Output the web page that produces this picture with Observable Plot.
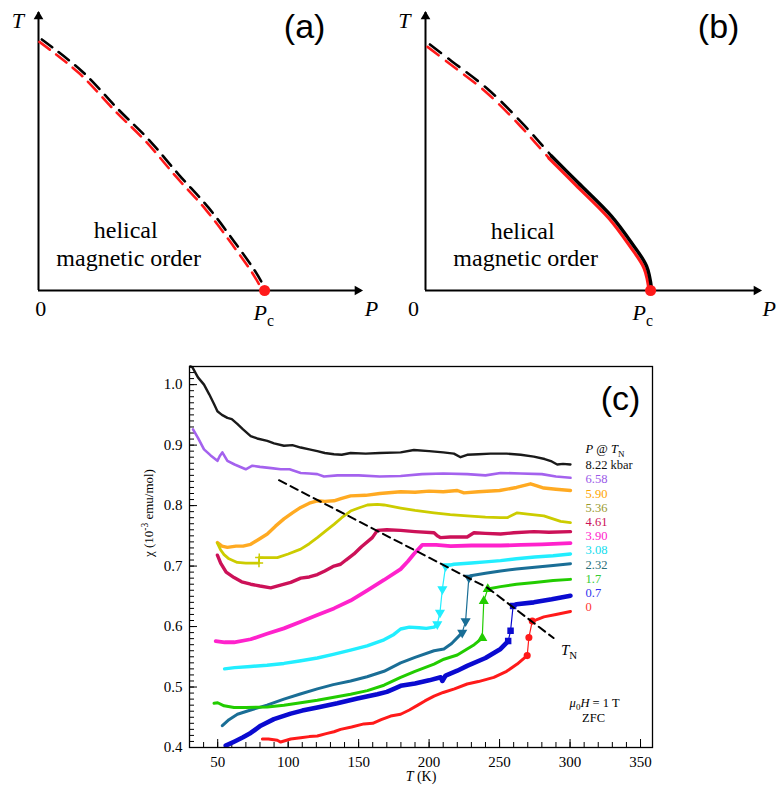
<!DOCTYPE html>
<html>
<head>
<meta charset="utf-8">
<script src="https://cdn.jsdelivr.net/npm/d3@7"></script>
<script src="https://cdn.jsdelivr.net/npm/@observablehq/plot@0.6"></script>
<style>
  html, body { margin: 0; padding: 0; background: #fff; }
  #wrap { position: relative; width: 777px; height: 789px; overflow: hidden; background: #fff; }
</style>
</head>
<body>
<div id="wrap"></div>
<script>
// ================= DATA =================
// Panel (a): schematic phase boundary, P and T in relative units
const aDashP = [0.007, 0.131, 0.244, 0.337, 0.430, 0.523, 0.605, 0.667, 0.700];
const aDashT = [0.899, 0.785, 0.647, 0.540, 0.414, 0.294, 0.168, 0.066, 0.000];
const aPc = 0.700;

// Panel (b): dashed part and solid part of the boundary
const bDashP = [0.010, 0.075, 0.184, 0.284, 0.338, 0.373];
const bDashT = [0.881, 0.821, 0.719, 0.600, 0.528, 0.480];
const bSolidP = [0.373, 0.453, 0.552, 0.612, 0.657, 0.672];
const bSolidT = [0.480, 0.384, 0.264, 0.168, 0.084, 0.000];
const bPc = 0.672;

// Panel (c): chi (10^-3 emu/mol) vs T (K) for several pressures
const T_822 = [30.5, 32, 36, 40.3, 44, 47.4, 49.8, 53, 56.9, 60, 63.9, 68, 73.4, 78, 85.2, 90, 97, 103, 108.9, 115, 120.7, 126, 132.5, 138, 144.3, 155, 165, 179.8, 189.2, 200, 210, 217.6, 222.3, 227, 235, 243.6, 255, 265, 274.3, 282, 287, 290.9, 295, 300.3];
const chi_822 = [1.030, 1.029, 1.012, 1.000, 0.984, 0.968, 0.956, 0.950, 0.945, 0.943, 0.935, 0.926, 0.915, 0.911, 0.907, 0.903, 0.899, 0.900, 0.896, 0.893, 0.890, 0.887, 0.885, 0.884, 0.887, 0.886, 0.887, 0.888, 0.892, 0.890, 0.888, 0.886, 0.880, 0.884, 0.885, 0.886, 0.886, 0.884, 0.881, 0.877, 0.873, 0.868, 0.869, 0.868];

const T_658 = [32.5, 36, 40.3, 45, 49.8, 51.5, 53.3, 56.9, 62, 69.9, 74.6, 80, 88, 94.7, 101, 108.9, 115, 120.7, 125.4, 135, 150, 165, 179.8, 195, 210, 227, 240, 250.7, 265, 280, 290, 300.3];
const chi_658 = [0.926, 0.912, 0.893, 0.883, 0.874, 0.882, 0.888, 0.874, 0.868, 0.860, 0.866, 0.864, 0.862, 0.860, 0.860, 0.854, 0.853, 0.852, 0.848, 0.850, 0.850, 0.848, 0.849, 0.852, 0.853, 0.852, 0.850, 0.854, 0.853, 0.852, 0.848, 0.846];

const T_590 = [49.8, 53, 56.9, 63, 68, 73.4, 79, 85.2, 91, 97, 103, 108.9, 115, 120.7, 126, 132.5, 138, 144.3, 155, 165, 179.8, 190, 200, 210, 220, 224.7, 235, 250, 262, 272, 276, 281.4, 290, 300.3];
const chi_590 = [0.739, 0.733, 0.731, 0.733, 0.733, 0.736, 0.744, 0.753, 0.766, 0.778, 0.788, 0.797, 0.804, 0.808, 0.807, 0.808, 0.812, 0.816, 0.817, 0.820, 0.823, 0.822, 0.824, 0.823, 0.825, 0.821, 0.823, 0.825, 0.830, 0.836, 0.833, 0.829, 0.827, 0.825];

const T_536 = [49.8, 52, 54.5, 58, 63.9, 70, 79.3, 79.5, 86, 92.3, 100, 108.9, 115, 120.7, 126, 132.5, 138, 144.3, 150, 156.2, 163.3, 168, 179.8, 190, 203.5, 215, 227, 240, 250.7, 255.4, 262.5, 270, 281.4, 293.3, 300.3];
const chi_536 = [0.738, 0.727, 0.719, 0.712, 0.706, 0.705, 0.705, 0.714, 0.714, 0.714, 0.720, 0.728, 0.737, 0.747, 0.757, 0.769, 0.780, 0.791, 0.796, 0.801, 0.802, 0.801, 0.796, 0.792, 0.788, 0.785, 0.783, 0.781, 0.780, 0.780, 0.788, 0.786, 0.783, 0.774, 0.772];

const T_461 = [49.8, 52.1, 56, 61.6, 67, 73.4, 80, 87.6, 94, 101.8, 108.9, 115, 120.7, 126, 132.5, 137.2, 141, 146.7, 152, 159.7, 163.3, 170, 179.8, 190, 203.5, 205.8, 208.2, 215, 227, 231.8, 240, 250.7, 260, 274.3, 285, 300.3];
const chi_461 = [0.718, 0.705, 0.690, 0.681, 0.674, 0.670, 0.667, 0.664, 0.668, 0.673, 0.680, 0.682, 0.686, 0.692, 0.700, 0.703, 0.710, 0.720, 0.732, 0.747, 0.759, 0.760, 0.759, 0.757, 0.755, 0.750, 0.747, 0.748, 0.748, 0.755, 0.754, 0.753, 0.755, 0.757, 0.756, 0.757];

const T_390 = [48.6, 55, 61.6, 73.4, 85, 97, 108.9, 120.7, 132.5, 144.3, 156.2, 168, 179.8, 185, 189.2, 195.2, 205, 215.3, 230, 250.7, 265, 280, 300.3];
const chi_390 = [0.576, 0.574, 0.574, 0.579, 0.588, 0.597, 0.608, 0.619, 0.630, 0.643, 0.660, 0.677, 0.695, 0.708, 0.720, 0.735, 0.735, 0.733, 0.734, 0.734, 0.735, 0.736, 0.738];

const T_308 = [54.9, 62, 73.4, 85, 97, 108, 120.7, 132, 144.3, 156, 168, 175, 179.8, 186, 193, 198, 203.5, 205.8, 207.7, 209.4, 211.7, 217.6, 230, 240, 250.7, 262, 275, 288, 300.3];
const chi_308 = [0.530, 0.532, 0.534, 0.536, 0.539, 0.543, 0.548, 0.554, 0.561, 0.568, 0.578, 0.587, 0.596, 0.599, 0.598, 0.597, 0.599, 0.604, 0.623, 0.662, 0.700, 0.703, 0.705, 0.707, 0.709, 0.712, 0.715, 0.717, 0.720];

const T_232 = [53.3, 58, 64, 73.4, 85, 97, 108, 120.7, 132, 144.3, 156, 168, 179.8, 190, 203.5, 210.5, 216, 223.5, 225.9, 228.2, 229.4, 240, 250.7, 262, 275, 288, 300.3];
const chi_232 = [0.436, 0.446, 0.455, 0.462, 0.470, 0.480, 0.488, 0.497, 0.504, 0.510, 0.517, 0.526, 0.540, 0.549, 0.560, 0.563, 0.572, 0.590, 0.609, 0.681, 0.684, 0.688, 0.692, 0.695, 0.698, 0.701, 0.704];

const T_17 = [47.4, 50, 54.5, 61.6, 70, 85.2, 97, 108.9, 120.7, 132.5, 144.3, 156.2, 168, 179.8, 190, 203.5, 210.5, 220, 227, 232, 237.7, 238.8, 241.6, 250.7, 262, 275, 288, 300.3];
const chi_17 = [0.473, 0.474, 0.469, 0.466, 0.466, 0.467, 0.470, 0.474, 0.478, 0.483, 0.488, 0.494, 0.503, 0.516, 0.526, 0.538, 0.546, 0.553, 0.563, 0.570, 0.581, 0.642, 0.662, 0.666, 0.670, 0.673, 0.676, 0.678];

const T_07 = [55.7, 62, 68, 73.4, 80.5, 89.9, 101.8, 110, 120.7, 134.9, 149.1, 163.3, 170, 175, 179.8, 190, 200, 208.2, 209.4, 211.7, 220, 227, 240, 250.7, 256.1, 257.8, 259.6, 262, 274.3, 287, 300.3];
const chi_07 = [0.403, 0.410, 0.417, 0.424, 0.436, 0.447, 0.456, 0.461, 0.466, 0.473, 0.481, 0.488, 0.492, 0.497, 0.502, 0.506, 0.511, 0.516, 0.510, 0.519, 0.527, 0.535, 0.548, 0.563, 0.576, 0.593, 0.634, 0.637, 0.640, 0.645, 0.651];

const T_0 = [81.7, 86, 92.3, 94.7, 101.8, 108.9, 115, 120.7, 127, 132.5, 137.2, 145, 153.7, 160, 166, 172.7, 179.8, 186, 192, 197, 203.5, 210, 218, 227, 235, 245.9, 255, 262.5, 266, 269.6, 270.8, 273.2, 276, 281.4, 290, 300.3];
const chi_0 = [0.414, 0.414, 0.412, 0.409, 0.414, 0.416, 0.418, 0.419, 0.423, 0.426, 0.430, 0.434, 0.439, 0.440, 0.446, 0.452, 0.455, 0.462, 0.470, 0.477, 0.485, 0.491, 0.497, 0.505, 0.509, 0.516, 0.526, 0.538, 0.545, 0.552, 0.582, 0.609, 0.611, 0.616, 0.620, 0.625];

// T_N guide line (dashed)
const tnT = [93.5, 241.5, 288.3];
const tnChi = [0.842, 0.664, 0.581];

// Legend / tick labels
const pressureLabels = ["8.22 kbar", "6.58", "5.90", "5.36", "4.61", "3.90", "3.08", "2.32", "1.7", "0.7", "0"];
const xMajor = [50, 100, 150, 200, 250, 300, 350];
const yMajor = [0.4, 0.5, 0.6, 0.7, 0.8, 0.9, 1.0];

// ================= STYLES =================
const SERIF = "'Liberation Serif','Times New Roman',Times,serif";
const SANS = "'Liberation Sans',Arial,Helvetica,sans-serif";
const lineColors   = ["#1a1a1a", "#a462ee", "#ffaa22", "#cccc00", "#cc1158", "#ff22cc", "#22eeff", "#1a6e96", "#22cc00", "#0a0ad0", "#ff1a1a"];
const legendColors = ["#111111", "#9b59e8", "#ffa500", "#99992e", "#cc1158", "#ff22cc", "#11ddee", "#2a6f78", "#33cc33", "#3333ee", "#ff3333"];
const lineWidths   = [2.4, 2.6, 3.4, 2.8, 3.4, 3.8, 3.4, 3.0, 3.0, 4.6, 3.0];
const jumpSymbols  = ["plus", "circle", "square", "plus", "times", "diamond", "triangle", "triangle", "triangle", "square", "circle"];
const jumpRotate   = [0, 0, 0, 0, 0, 0, 180, 180, 0, 0, 0];

const seriesT = [T_822, T_658, T_590, T_536, T_461, T_390, T_308, T_232, T_17, T_07, T_0];
const seriesChi = [chi_822, chi_658, chi_590, chi_536, chi_461, chi_390, chi_308, chi_232, chi_17, chi_07, chi_0];

// ================= HELPERS =================
// convert simple markup (*italic*, _{sub}, ^{sup}) into tspans
function rich(svg) {
  svg.querySelectorAll("text").forEach(el => {
    const s = el.textContent;
    if (!/\*|_\{|\^\{/.test(s)) return;
    const fs = parseFloat(getComputedStyle(el).fontSize) || 12;
    const re = /\*([^*]+)\*|_\{([^}]*)\}|\^\{([^}]*)\}|([^*_^]+)/g;
    const esc = t => t.replace(/&/g, "&amp;").replace(/</g, "&lt;");
    let html = "", shift = 0, m;
    while ((m = re.exec(s))) {
      if (m[2] !== undefined) {
        const d = 0.28 * fs;
        html += `<tspan dy="${(d - shift).toFixed(2)}" font-size="${(0.72 * fs).toFixed(2)}">${esc(m[2])}</tspan>`;
        shift = d;
      } else if (m[3] !== undefined) {
        const d = -0.38 * fs;
        html += `<tspan dy="${(d - shift).toFixed(2)}" font-size="${(0.72 * fs).toFixed(2)}">${esc(m[3])}</tspan>`;
        shift = d;
      } else {
        const t = m[1] !== undefined ? m[1] : m[4];
        const it = m[1] !== undefined ? ' font-style="italic"' : '';
        html += `<tspan dy="${(-shift).toFixed(2)}"${it}>${esc(t)}</tspan>`;
        shift = 0;
      }
    }
    el.innerHTML = html;
  });
}

function splitRuns(T, C) {
  const thick = [], thin = [];
  let run = 0, prev = null;
  for (let i = 0; i < T.length - 1; i++) {
    const steep = Math.abs((C[i + 1] - C[i]) / (T[i + 1] - T[i])) > 0.0065;
    const target = steep ? thin : thick;
    if (prev !== steep) { run++; target.push({T: T[i], c: C[i], run}); }
    target.push({T: T[i + 1], c: C[i + 1], run});
    prev = steep;
  }
  return {thick, thin};
}

// text marks grouped by anchor and font family (constant options in Plot)
function textMarks(labels, xKey, yKey) {
  const groups = d3.groups(labels, d => d.anchor + "|" + d.font);
  return groups.map(([key, rows]) => {
    const [anchor, font] = key.split("|");
    return Plot.text(rows, {x: xKey, y: yKey, text: "text", fontSize: "size", textAnchor: anchor,
      fontFamily: font === "sans" ? SANS : SERIF, fill: "black"});
  });
}

const wrap = document.getElementById("wrap");
function place(svg, left, top) {
  svg.style.position = "absolute";
  svg.style.left = left + "px";
  svg.style.top = top + "px";
  svg.style.maxWidth = "none";
  wrap.appendChild(svg);
  rich(svg);
}

// ================= PANELS (a) and (b) =================
function schematic(cfg) {
  const dashed = cfg.dashP.map((p, i) => ({P: p, T: cfg.dashT[i]}));
  const solid = cfg.solidP ? cfg.solidP.map((p, i) => ({P: p, T: cfg.solidT[i]})) : [];
  const marks = [
    Plot.ruleX([0], {y1: 0, y2: 1, strokeWidth: 2, stroke: "black"}),
    Plot.ruleY([0], {x1: 0, x2: 1, strokeWidth: 2, stroke: "black"}),
    Plot.dot([{P: 0, T: 1}], {x: "P", y: "T", symbol: "triangle", r: 3.6, fill: "black", dy: 4}),
    Plot.dot([{P: 1, T: 0}], {x: "P", y: "T", symbol: "triangle", r: 3.6, fill: "black", rotate: 90, dx: -4}),
    Plot.line(dashed, {x: "P", y: "T", stroke: "#ff1a1a", strokeWidth: 2.6, strokeDasharray: cfg.dash, dx: -1.3, dy: 1.3, curve: "catmull-rom"}),
    Plot.line(dashed, {x: "P", y: "T", stroke: "black", strokeWidth: 2.6, strokeDasharray: cfg.dash, dx: 1.1, dy: -1.1, curve: "catmull-rom"})
  ];
  if (solid.length) {
    marks.push(Plot.line(solid, {x: "P", y: "T", stroke: "#ff1a1a", strokeWidth: 3.2, dx: -1.4, dy: 1.4, curve: "catmull-rom"}));
    marks.push(Plot.line(solid, {x: "P", y: "T", stroke: "black", strokeWidth: 3.4, dx: 1, dy: -1, curve: "catmull-rom"}));
  }
  marks.push(Plot.dot([{P: cfg.Pc, T: 0}], {x: "P", y: "T", r: 5.5, fill: "#ff1a1a"}));
  marks.push(...textMarks(cfg.labels, "P", "T"));
  return Plot.plot({
    width: cfg.width, height: 330,
    marginLeft: cfg.ml, marginRight: cfg.mr, marginTop: 12, marginBottom: 40,
    x: {domain: [0, 1], axis: null},
    y: {domain: [0, 1], axis: null},
    style: {fontFamily: SERIF, fontSize: "22px", background: "transparent", color: "black", overflow: "visible"},
    marks
  });
}

const labelsA = [
  {P: -0.064, T: 0.971, text: "*T*", size: 22, anchor: "middle", font: "serif"},
  {P: 0.007, T: -0.065, text: "0", size: 22, anchor: "middle", font: "serif"},
  {P: 1.031, T: -0.065, text: "*P*", size: 22, anchor: "middle", font: "serif"},
  {P: 0.666, T: -0.079, text: "*P*_{c}", size: 22, anchor: "start", font: "serif"},
  {P: 0.270, T: 0.216, text: "helical", size: 24, anchor: "middle", font: "serif"},
  {P: 0.279, T: 0.115, text: "magnetic order", size: 24, anchor: "middle", font: "serif"},
  {P: 0.824, T: 0.946, text: "(a)", size: 34, anchor: "middle", font: "sans"}
];
const labelsB = [
  {P: -0.063, T: 0.971, text: "*T*", size: 22, anchor: "middle", font: "serif"},
  {P: -0.036, T: -0.068, text: "0", size: 22, anchor: "middle", font: "serif"},
  {P: 1.006, T: -0.065, text: "*P*", size: 22, anchor: "start", font: "serif"},
  {P: 0.618, T: -0.079, text: "*P*_{c}", size: 22, anchor: "start", font: "serif"},
  {P: 0.290, T: 0.212, text: "helical", size: 24, anchor: "middle", font: "serif"},
  {P: 0.299, T: 0.115, text: "magnetic order", size: 24, anchor: "middle", font: "serif"},
  {P: 0.875, T: 0.946, text: "(b)", size: 34, anchor: "middle", font: "sans"}
];

place(schematic({width: 390, ml: 38, mr: 29, dashP: aDashP, dashT: aDashT, Pc: aPc, labels: labelsA, dash: "13,8"}), 0, 0);
place(schematic({width: 387, ml: 35, mr: 17, dashP: bDashP, dashT: bDashT, solidP: bSolidP, solidT: bSolidT, Pc: bPc, labels: labelsB, dash: "14,9"}), 390, 0);

// ================= PANEL (c) =================
const W = 777, H = 459, ML = 189, MR = 125, MT = 36, MB = 42;
const plotW = W - ML - MR, plotH = H - MT - MB;
const xMinor = d3.range(30, 360, 10);
const yMinor = d3.range(40, 104).map(d => d / 100);

const cMarks = [
  Plot.tickX(xMinor, {x: d => d, insetTop: plotH - 5, stroke: "black"}),
  Plot.tickX(xMajor, {x: d => d, insetTop: plotH - 8, stroke: "black"}),
  Plot.tickY(yMinor, {y: d => d, insetRight: plotW - 5, stroke: "black"}),
  Plot.tickY(yMajor, {y: d => d, insetRight: plotW - 8, stroke: "black"})
];

seriesT.forEach((T, k) => {
  const {thick, thin} = splitRuns(T, seriesChi[k]);
  cMarks.push(Plot.line(thick, {x: "T", y: "c", z: "run", stroke: lineColors[k], strokeWidth: lineWidths[k], strokeLinejoin: "round", strokeLinecap: "round"}));
  if (thin.length) {
    cMarks.push(Plot.line(thin, {x: "T", y: "c", z: "run", stroke: lineColors[k], strokeWidth: 1.2}));
    cMarks.push(Plot.dot(thin, {x: "T", y: "c", symbol: jumpSymbols[k], r: 2.8, fill: lineColors[k], stroke: lineColors[k], rotate: jumpRotate[k]}));
  }
});

const tn = tnT.map((t, i) => ({T: t, c: tnChi[i]}));
cMarks.push(Plot.line(tn, {x: "T", y: "c", stroke: "black", strokeWidth: 2, strokeDasharray: "8,5"}));

// legend
const legendT = 311, legendTop = 0.867, legendStep = 0.02354;
const legend = pressureLabels.map((l, i) => ({label: l, color: legendColors[i], c: legendTop - i * legendStep}));
cMarks.push(Plot.text(["*P* @ *T*_{N}"], {x: () => legendT, y: () => legendTop + 1.1 * legendStep, textAnchor: "start", fontSize: 12.5, fill: "black"}));
cMarks.push(Plot.text(legend, {x: () => legendT, y: "c", text: "label", fill: "color", textAnchor: "start", fontSize: 12.5}));

// annotations
const notes = [
  {T: 293.5, c: 0.5615, text: "*T*_{N}", size: 15, anchor: "start", font: "serif"},
  {T: 317.4, c: 0.474, text: "*μ*_{0}*H* = 1 T", size: 12.5, anchor: "middle", font: "serif"},
  {T: 316.7, c: 0.449, text: "ZFC", size: 12.5, anchor: "middle", font: "serif"},
  {T: 335.8, c: 0.976, text: "(c)", size: 34, anchor: "middle", font: "sans"}
];
cMarks.push(...textMarks(notes, "T", "c"));

// axis titles
cMarks.push(Plot.text(["χ (10^{-3} emu/mol)"], {frameAnchor: "left", dx: -41, rotate: -90, fontSize: 13, fill: "black"}));
cMarks.push(Plot.text(["*T* (K)"], {frameAnchor: "bottom", dy: 33, fontSize: 14, fill: "black"}));

cMarks.push(Plot.frame({stroke: "black", strokeWidth: 1.3}));

const plotC = Plot.plot({
  width: W, height: H,
  marginLeft: ML, marginRight: MR, marginTop: MT, marginBottom: MB,
  style: {fontFamily: SERIF, fontSize: "15px", background: "transparent", color: "black"},
  color: {type: "identity"},
  x: {domain: [30, 358.5], ticks: xMajor, tickSize: 0, tickPadding: 9, label: null},
  y: {domain: [0.4, 1.03], ticks: yMajor, tickSize: 0, tickPadding: 7, tickFormat: d => d.toFixed(1), label: null},
  marks: cMarks
});
place(plotC, 0, 330);
</script>
</body>
</html>
